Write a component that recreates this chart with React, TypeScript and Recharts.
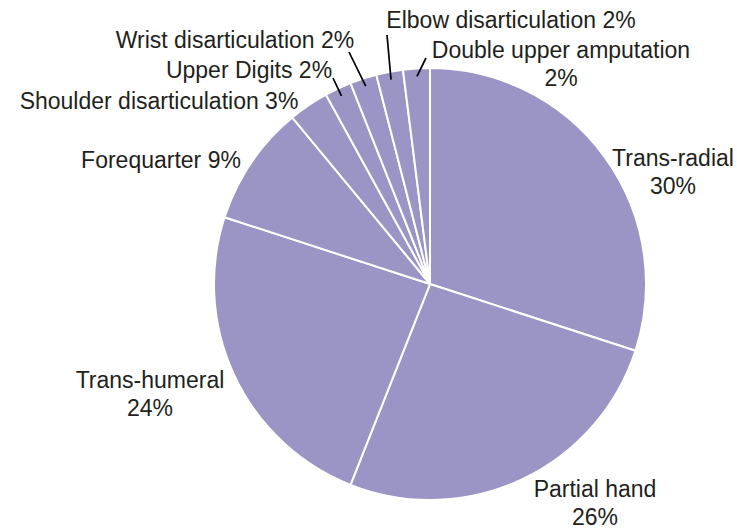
import React from 'react';
import { PieChart, Pie, Cell } from 'recharts';

// Upper-limb amputation levels, share of cases (%)
const levels = [
  'Trans-radial',
  'Partial hand',
  'Trans-humeral',
  'Forequarter',
  'Shoulder disarticulation',
  'Upper Digits',
  'Wrist disarticulation',
  'Elbow disarticulation',
  'Double upper amputation',
];
const shares = [30, 26, 24, 9, 3, 2, 2, 2, 2];

const data = levels.map((name, i) => ({ name, value: shares[i] }));

// label text lines and placement relative to the pie centre
type LabelLayout = { lines: string[]; dx: number; dy: number; lead?: [number, number] };
const labelLayout: LabelLayout[] = [
  { lines: ['Trans-radial', '30%'], dx: 243, dy: -118 },
  { lines: ['Partial hand', '26%'], dx: 165, dy: 213 },
  { lines: ['Trans-humeral', '24%'], dx: -280, dy: 104 },
  { lines: ['Forequarter 9%'], dx: -269, dy: -116 },
  { lines: ['Shoulder disarticulation 3%'], dx: -271, dy: -175 },
  { lines: ['Upper Digits 2%'], dx: -181, dy: -206, lead: [-97, -206] },
  { lines: ['Wrist disarticulation 2%'], dx: -195, dy: -236, lead: [-81, -232] },
  { lines: ['Elbow disarticulation 2%'], dx: 81, dy: -256, lead: [-43, -249] },
  { lines: ['Double upper amputation', '2%'], dx: 131, dy: -226, lead: [-4, -226] },
];

const RAD = Math.PI / 180;
const FILL = '#9b95c6';
const TEXT = '#231f20';

const renderLabel = (props: any) => {
  const { cx, cy, midAngle, outerRadius, index } = props;
  const layout = labelLayout[index];
  const x = cx + layout.dx;
  const y = cy + layout.dy;
  let leader = null;
  if (layout.lead) {
    const r = outerRadius - 8;
    const x1 = cx + r * Math.cos(-midAngle * RAD);
    const y1 = cy + r * Math.sin(-midAngle * RAD);
    leader = (
      <line
        x1={x1}
        y1={y1}
        x2={cx + layout.lead[0]}
        y2={cy + layout.lead[1]}
        stroke="#000"
        strokeWidth={1.7}
      />
    );
  }
  return (
    <g key={`label-${index}`}>
      {leader}
      <text x={x} y={y} textAnchor="middle" fill={TEXT} fontSize={23}>
        {layout.lines.map((line, i) => (
          <tspan key={i} x={x} dy={i === 0 ? 0 : 28}>
            {line}
          </tspan>
        ))}
      </text>
    </g>
  );
};

export default function App() {
  return (
    <div
      style={{
        position: 'absolute',
        left: 0,
        top: 0,
        width: 737,
        height: 530,
        background: '#fff',
        fontFamily: '"Liberation Sans", Arial, Helvetica, sans-serif',
      }}
    >
      <PieChart width={737} height={530} margin={{ top: 0, right: 0, bottom: 0, left: 0 }}>
        <Pie
          data={data}
          dataKey="value"
          nameKey="name"
          cx={430}
          cy={284}
          outerRadius={216}
          startAngle={90}
          endAngle={-270}
          stroke="#fff"
          strokeWidth={2}
          label={renderLabel}
          labelLine={false}
          isAnimationActive={false}
        >
          {data.map((entry, i) => (
            <Cell key={`cell-${i}`} fill={FILL} />
          ))}
        </Pie>
      </PieChart>
    </div>
  );
}
